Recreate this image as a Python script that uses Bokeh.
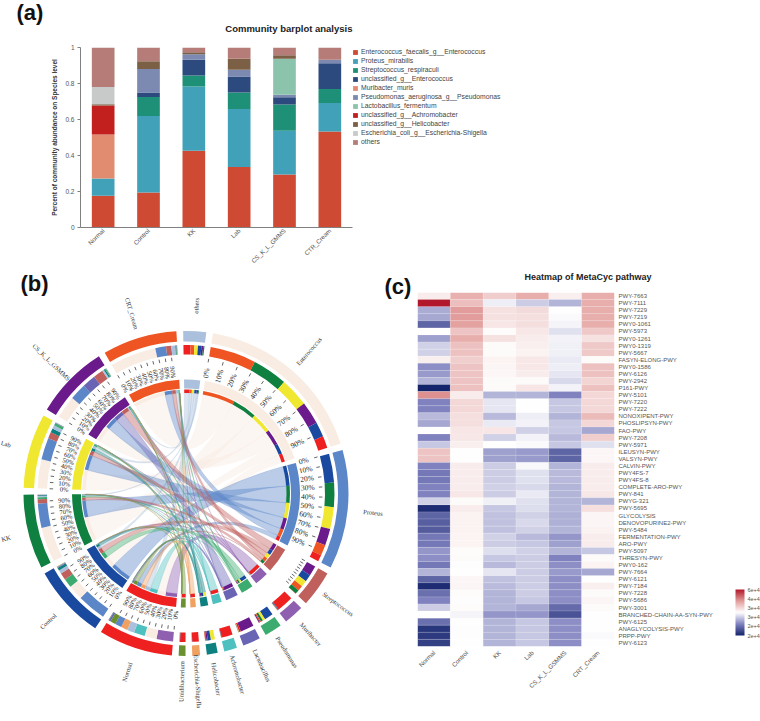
import math
import numpy as np
from bokeh.embed import file_html
from bokeh.resources import INLINE
from bokeh.plotting import figure
from bokeh.layouts import column, row
from bokeh.core.properties import value
from bokeh.models import (ColorBar, ColumnDataSource, FactorRange, FixedTicker, Label, Legend, LegendItem,
                          LinearColorMapper, Range1d)

# ---------------- (a) stacked bars ----------------
bar_groups = ["Normal", "Control", "KK", "Lab", "CS_K_L_GMMS", "CTR_Cream"]
species = ["Enterococcus_faecalis_g__Enterococcus", "Proteus_mirabilis", "Streptococcus_respiraculi",
           "unclassified_g__Enterococcus", "Muribacter_muris", "Pseudomonas_aeruginosa_g__Pseudomonas",
           "Lactobacillus_fermentum", "unclassified_g__Achromobacter", "unclassified_g__Helicobacter",
           "Escherichia_coli_g__Escherichia-Shigella", "others"]
species_colors = ["#cf4a32", "#40a1b8", "#1f9078", "#2d4a7f", "#e18b70", "#7c89b0", "#8cc3ad",
                  "#c1201f", "#7c6045", "#c8cac9", "#b57c78"]
sp_enterococcus = [.176, .194, .427, .336, .294, .534]
sp_proteus = [.096, .425, .357, .322, .244, .157]
sp_strep = [0, .106, .061, .092, .146, .078]
sp_uncl_entero = [0, .025, .087, .089, .039, .144]
sp_muribacter = [.244, 0, 0, 0, 0, 0]
sp_pseudomonas = [0, .130, .031, .037, .015, .019]
sp_lacto = [0, 0, 0, 0, .199, 0]
sp_achromo = [.162, 0, 0, 0, 0, 0]
sp_helico = [.007, .044, .011, .061, .020, 0]
sp_escherichia = [.095, 0, 0, 0, 0, 0]
sp_others = [.220, .076, .026, .063, .043, .068]
species_values = [sp_enterococcus, sp_proteus, sp_strep, sp_uncl_entero, sp_muribacter, sp_pseudomonas,
                  sp_lacto, sp_achromo, sp_helico, sp_escherichia, sp_others]
bar_ticks = [0, .2, .4, .6, .8, 1]

# ---------------- (b) chord ----------------
samples = ["Normal", "Control", "KK", "Lab", "CS_K_L_GSMMS", "CRT_Cream"]
sample_colors = ["#ee2020", "#1a4aa0", "#0f8040", "#f0e830", "#6a1a8a", "#ee5522"]
taxa = ["others", "Enterococcus", "Proteus", "Streptococcus", "Muribacter", "Pseudomonas",
        "Lactobacillus", "Achromobacter", "Helicobacter", "Escherichia-Shigella", "Unidibacterium"]
taxa_colors = ["#aac0dc", "#f9ece2", "#5b86c8", "#c0605c", "#9060b0", "#3cab70",
               "#6a64b4", "#4fc0c0", "#0f8080", "#f0a060", "#6a9030"]
flow_others = [10.5, 5.1, 1.8, 5.2, 2.6, 5.5]
flow_enterococcus = [17.6, 21.9, 51.4, 42.5, 33.3, 67.8]
flow_proteus = [9.6, 42.5, 35.7, 32.2, 24.4, 15.7]
flow_strep = [.3, 10.6, 6.1, 9.2, 14.6, 7.8]
flow_muribacter = [24.4, 1.0, .3, .4, .4, .3]
flow_pseudomonas = [.2, 13, 3.1, 3.7, 1.5, 1.9]
flow_lacto = [2.5, .3, .2, .5, 19.9, .3]
flow_achromo = [16.2, .4, .1, .2, .3, .1]
flow_helico = [.7, 4.4, 1.1, 6.1, 2, .2]
flow_escherichia = [9.7, .2, .1, .1, .2, .1]
flow_unid = [8, .3, .2, .2, .2, .2]
flows = [flow_others, flow_enterococcus, flow_proteus, flow_strep, flow_muribacter, flow_pseudomonas,
         flow_lacto, flow_achromo, flow_helico, flow_escherichia, flow_unid]
pct_labels = ["0%", "10%", "20%", "30%", "40%", "50%", "60%", "70%", "80%", "90%"]

# ---------------- (c) heatmap ----------------
pathways = ["PWY-7663", "PWY-7111", "PWY-7229", "PWY-7219", "PWY0-1061", "PWY-5973", "PWY0-1261", "PWY0-1319",
            "PWY-5667", "FASYN-ELONG-PWY", "PWY0-1586", "PWY-6126", "PWY-2942", "P161-PWY", "PWY-5101", "PWY-7220",
            "PWY-7222", "NONOXIPENT-PWY", "PHOSLIPSYN-PWY", "FAO-PWY", "PWY-7208", "PWY-5971", "ILEUSYN-PWY",
            "VALSYN-PWY", "CALVIN-PWY", "PWY4FS-7", "PWY4FS-8", "COMPLETE-ARO-PWY", "PWY-841", "PWYG-321", "PWY-5695",
            "GLYCOLYSIS", "DENOVOPURINE2-PWY", "PWY-5484", "FERMENTATION-PWY", "ARO-PWY", "PWY-5097", "THRESYN-PWY",
            "PWY0-162", "PWY-7664", "PWY-6121", "PWY-7184", "PWY-7228", "PWY-5686", "PWY-3001",
            "BRANCHED-CHAIN-AA-SYN-PWY", "PWY-6125", "ANAGLYCOLYSIS-PWY", "PRPP-PWY", "PWY-6123"]
z_normal = [.1, 1, -.33, -.35, -.65, 0, -.38, -.18, -.18, .08, -.45, -.4, -.3, -1, .55, -.5, -.5, -.28, -.35, 0, -.5, -.22, .3, .3, -.5, -.55, -.55, -.5, -.5, -.18, -.95, -.65, -.68, -.7, -.55, -.55, -.42, -.45, -.55, -.3, -.65, -.95, -.6, -.5, -.2, 0, -.6, -.9, -.88, -.85]
z_control = [.4, .33, .5, .5, .48, .3, .42, .32, .32, .25, .3, .3, .3, .32, .1, .2, .2, .17, .17, .13, .12, .08, 0, 0, .1, .1, .1, .1, .12, .03, .1, .07, .07, .07, .06, .06, .02, .03, .01, 0, .04, .05, .02, .01, .02, -.04, 0, .01, .01, 0]
z_kk = [.25, -.07, .15, .15, .13, .02, .15, .03, .03, .06, .05, .04, .03, .03, -.3, -.1, -.1, -.28, -.08, .13, -.18, 0, -.38, -.38, -.2, -.2, -.2, -.18, -.2, -.06, -.22, -.25, -.25, -.25, -.18, -.2, -.13, -.22, -.28, -.1, -.25, -.27, -.3, -.3, -.3, -.42, -.3, -.3, -.3, -.3]
z_lab = [.42, -.2, .18, .17, .17, .12, .1, .08, .07, .12, .12, .1, .03, .13, -.3, 0, 0, -.07, -.05, -.18, -.05, -.02, -.4, -.4, -.03, -.12, -.12, -.15, -.08, -.12, -.14, -.18, -.15, -.18, -.28, -.22, -.18, -.2, -.2, -.2, -.2, -.2, -.2, -.22, -.35, -.42, -.22, -.22, -.22, -.22]
z_cs = [.08, -.3, 0, -.02, -.04, -.12, -.05, -.06, -.06, -.08, -.07, -.1, -.15, -.05, -.5, -.22, -.22, -.3, -.22, -.22, -.28, -.22, -.65, -.65, -.3, -.28, -.28, -.3, -.3, -.3, -.3, -.32, -.32, -.3, -.42, -.38, -.3, -.5, -.45, -.4, -.45, -.45, -.45, -.45, -.62, -.75, -.45, -.45, -.45, -.45]
z_crt = [.42, .42, .42, .42, .42, .28, .15, .28, .28, .03, .32, .32, .22, .32, .2, .2, .2, .35, .2, -.35, .25, -.12, .04, .04, .1, .1, .1, .1, .12, -.3, .16, .05, .05, .07, .1, .1, -.22, .03, .06, -.35, 0, .08, .03, .05, .03, 0, 0, 0, -.02, 0]
heat_columns = [z_normal, z_control, z_kk, z_lab, z_cs, z_crt]
cbar_ticks = [-1, -.6, -.2, .2, .6, 1]
cbar_labels = ["2e+4", "2e+4", "3e+4", "3e+4", "4e+4", "6e+4"]

SANS = "Liberation Sans"
SERIF = "Liberation Serif"
A_H = 282        # height of first row
ROW2_TOP = 258   # picture y at which the second row starts (it overlaps the empty end of row 1)
B_H = 721 - ROW2_TOP


def panel_label(text, w, h, x, y):
    """A small empty figure that only holds a panel letter."""
    f = figure(width=w, height=h, x_range=Range1d(0, w), y_range=Range1d(0, h), output_backend="svg",
               toolbar_location=None, min_border=0, border_fill_color=None, background_fill_color=None,
               frame_align=False)
    f.axis.visible = False
    f.grid.visible = False
    f.outline_line_color = None
    f.add_layout(Label(x=x, y=y, text=text, text_font=SANS, text_font_style="bold", text_font_size="22px",
                       text_color="#111111"))
    return f


# ---------- (a) ----------
pa = figure(frame_width=272, frame_height=180, x_range=FactorRange(*bar_groups, range_padding=0, factor_padding=0),
            y_range=Range1d(0, 1), output_backend="svg", toolbar_location=None, frame_align=False,
            min_border_left=32, min_border_right=0, min_border_top=47, min_border_bottom=A_H - 227)
renderers = pa.vbar_stack(species, x="group", width=0.5, color=species_colors, line_color=None,
                          source={"group": bar_groups, **dict(zip(species, species_values))})
pa.grid.visible = False
pa.outline_line_color = None
pa.title.text = "Community barplot analysis"
pa.title.align = "right"
pa.title.text_font = SANS
pa.title.text_font_size = "9.5px"
pa.title.text_color = "#222222"
pa.title.standoff = 28
pa.xaxis.major_label_orientation = math.pi / 4
pa.xaxis.major_tick_line_color = None
pa.xaxis.major_tick_out = 0
pa.xaxis.major_tick_in = 0
pa.xaxis.major_label_text_font_size = "6.2px"
pa.xaxis.major_label_text_font = SANS
pa.xaxis.major_label_text_color = "#555555"
pa.xaxis.major_label_standoff = 2
pa.xaxis.axis_line_color = "#808080"
pa.yaxis.ticker = FixedTicker(ticks=bar_ticks)
pa.yaxis.major_label_overrides = {0: "0", 1: "1"}
pa.yaxis.major_label_text_font_size = "6.5px"
pa.yaxis.major_label_text_font = SANS
pa.yaxis.major_label_text_color = "#555555"
pa.yaxis.major_tick_in = 0
pa.yaxis.major_tick_out = 3
pa.yaxis.major_tick_line_color = "#808080"
pa.yaxis.minor_tick_line_color = None
pa.yaxis.axis_line_color = "#808080"
pa.yaxis.major_label_standoff = 3
pa.yaxis.axis_label = "Percent of community abundance on Species level"
pa.yaxis.axis_label_text_font = SANS
pa.yaxis.axis_label_text_font_style = "bold"
pa.yaxis.axis_label_text_font_size = "6.5px"
pa.yaxis.axis_label_text_color = "#333333"
pa.yaxis.axis_label_standoff = 4
legend = Legend(items=[LegendItem(label=value(s), renderers=[r]) for s, r in zip(species, renderers)],
                location="top_left", border_line_color=None, background_fill_alpha=0,
                glyph_width=6, glyph_height=6, label_height=9, spacing=0, padding=7, margin=0,
                label_text_font=SANS, label_text_font_size="6.8px", label_text_color="#444444",
                label_standoff=3)
pa.add_layout(legend, "right")
pal = panel_label("(a)", 48, A_H, 16, A_H - 24)

# ---------- (b) ----------
GAP = 2.4
all_flows = np.array(flows, dtype=float)        # taxa x samples
taxa_tot = all_flows.sum(axis=1)
samp_tot = all_flows.sum(axis=0)
KF = (360 - GAP * (len(taxa) + len(samples))) / (taxa_tot.sum() + samp_tot.sum())

sectors = []
th = -1.0
for i, t in enumerate(taxa):
    w = taxa_tot[i] * KF
    sectors.append(dict(name=t, color=taxa_colors[i], start=th, end=th + w, kind="t", idx=i))
    th += w + GAP
for i, s in enumerate(samples):
    w = samp_tot[i] * KF
    sectors.append(dict(name=s, color=sample_colors[i], start=th, end=th + w, kind="s", idx=i))
    th += w + GAP

R_OUT = (152, 162.5)
R_COMP = (139, 148.5)
R_TICK = (133, 136.5)
R_INNER = (105, 114)
R_THIN = (100.5, 104)
R_LINK = 100.5

pb = figure(width=384, height=B_H, x_range=Range1d(0 - 185.5, 384 - 185.5),
            y_range=Range1d(493 - 721, 493 - ROW2_TOP), output_backend="svg", toolbar_location=None,
            min_border=0, border_fill_color=None, background_fill_color=None, frame_align=False)
pb.axis.visible = False
pb.grid.visible = False
pb.outline_line_color = None


def rad(theta):
    return np.radians(90 - theta)


wedges = {"ir": [], "or": [], "s": [], "e": [], "c": []}


def add_wedge(r, a1, a2, c):
    wedges["ir"].append(r[0]); wedges["or"].append(r[1])
    wedges["s"].append(float(rad(a2))); wedges["e"].append(float(rad(a1))); wedges["c"].append(c)


seg_t = {}  # (taxon, sample) -> angular segment in taxon sector
seg_s = {}  # (taxon, sample) -> angular segment in sample sector
for sec in sectors:
    add_wedge(R_OUT, sec["start"], sec["end"], sec["color"])
    add_wedge(R_INNER, sec["start"], sec["end"], sec["color"])
    a = sec["start"]
    if sec["kind"] == "t":
        vals = all_flows[sec["idx"], :]
        for j in np.argsort(-vals):
            b = a + vals[j] * KF
            seg_t[(sec["idx"], j)] = (a, b)
            add_wedge(R_COMP, a, b, sample_colors[j])
            add_wedge(R_THIN, a, b, sample_colors[j])
            a = b
    else:
        vals = all_flows[:, sec["idx"]]
        for j in np.argsort(-vals):
            b = a + vals[j] * KF
            seg_s[(j, sec["idx"])] = (a, b)
            add_wedge(R_COMP, a, b, taxa_colors[j])
            add_wedge(R_THIN, a, b, taxa_colors[j])
            a = b


def ribbon(a1, a2, b1, b2, r):
    t = np.linspace(0, 1, 24)
    xs, ys = [], []

    def arc(u, v):
        ang = np.radians(90 - np.linspace(u, v, 12))
        xs.extend(r * np.cos(ang)); ys.extend(r * np.sin(ang))

    def bez(u, v):
        p0 = np.array([r * np.cos(rad(u)), r * np.sin(rad(u))])
        p2 = np.array([r * np.cos(rad(v)), r * np.sin(rad(v))])
        xs.extend((1 - t) ** 2 * p0[0] + t ** 2 * p2[0])
        ys.extend((1 - t) ** 2 * p0[1] + t ** 2 * p2[1])

    arc(a1, a2); bez(a2, b1); arc(b1, b2); bez(b2, a1)
    return xs, ys


order = [1, 0, 2, 6, 4, 8, 7, 5, 3, 10, 9]
rx, ry, rc, ra = [], [], [], []
for i in order:
    for j in np.argsort(-all_flows[i, :])[::-1]:
        a1, a2 = seg_s[(i, j)]
        b1, b2 = seg_t[(i, j)]
        xs, ys = ribbon(a1, a2, b1, b2, R_LINK)
        rx.append(xs); ry.append(ys); rc.append(taxa_colors[i])
        ra.append(.45 if i == 1 else .42)
pb.patches(rx, ry, fill_color=rc, fill_alpha=ra, line_color=rc, line_alpha=.5, line_width=.4)
pb.annular_wedge(x=[0] * len(wedges["c"]), y=[0] * len(wedges["c"]), inner_radius=wedges["ir"],
                 outer_radius=wedges["or"], start_angle=wedges["s"], end_angle=wedges["e"],
                 fill_color=wedges["c"], line_color=None)

# ticks and percentage labels
tx0, ty0, tx1, ty1 = [], [], [], []
lx, ly, lt, la, lf = [], [], [], [], []
for sec in sectors:
    has_ticks = sec["kind"] == "s" or sec["name"] in ("Enterococcus", "Proteus", "Streptococcus")
    if not has_ticks:
        continue
    has_lab = sec["name"] != "Streptococcus"
    big = sec["name"] in ("Enterococcus", "Proteus")
    for n, lab in enumerate(pct_labels):
        ang = sec["start"] + (sec["end"] - sec["start"]) * n / 10
        c, s = math.cos(rad(ang)), math.sin(rad(ang))
        tx0.append(R_TICK[0] * c); ty0.append(R_TICK[0] * s)
        tx1.append(R_TICK[1] * c); ty1.append(R_TICK[1] * s)
        if has_lab:
            rr = 122
            lx.append(rr * c); ly.append(rr * s); lt.append(lab)
            la.append(float(rad(ang)) if ang % 360 < 180 else float(rad(ang)) + math.pi)
            lf.append("7.5px" if big else "6.5px")
pb.segment(tx0, ty0, tx1, ty1, line_color="#222222", line_width=.7)
pb.text(lx, ly, lt, angle=la, text_font=value(SERIF), text_font_size=lf, text_align="center",
        text_baseline="middle", text_color="#222222")

# sector names, tangential
nx, ny, nt, na = [], [], [], []
for sec in sectors:
    mid = (sec["start"] + sec["end"]) / 2
    c, s = math.cos(rad(mid)), math.sin(rad(mid))
    x, y = 188 * c, 188 * s
    x = max(x, -180.0)
    nx.append(x); ny.append(y); nt.append(sec["name"])
    ang = 90 - mid if mid % 360 < 180 else 270 - mid
    na.append(math.radians(ang))
pb.text(nx, ny, nt, angle=na, text_font=value(SERIF), text_font_size="6.5px", text_align="center",
        text_baseline="middle", text_color="#333333")
pb.add_layout(Label(x=20 - 185.5, y=493 - 295, text="(b)", text_font=SANS, text_font_style="bold",
                    text_font_size="22px", text_color="#111111"))

# ---------- (c) ----------
stops = [(-1, (20, 36, 107)), (-.5, (127, 130, 191)), (0, (255, 255, 255)), (.5, (226, 158, 156)), (1, (178, 24, 43))]
palette = []
for v in np.linspace(-1, 1, 256):
    for (v0, c0), (v1, c1) in zip(stops[:-1], stops[1:]):
        if v <= v1:
            f = (v - v0) / (v1 - v0)
            palette.append("#%02x%02x%02x" % tuple(int(round(c0[k] + (c1[k] - c0[k]) * f)) for k in range(3)))
            break
mapper = LinearColorMapper(palette=palette, low=-1, high=1)
heat_labels = ["Normal", "Control", "KK", "Lab", "CS_K_L_GSMMS", "CRT_Cream"]
pc = figure(width=348, height=B_H,
            x_range=FactorRange(*heat_labels, range_padding=0, factor_padding=0),
            y_range=FactorRange(*pathways[::-1], range_padding=0, factor_padding=0),
            y_axis_location="right", output_backend="svg", toolbar_location=None, frame_align=False,
            min_border_left=5, min_border_right=146, min_border_top=289 - ROW2_TOP, min_border_bottom=75,
            border_fill_color=None, background_fill_color=None)
cells_x, cells_y, cells_z = [], [], []
for name, col in zip(heat_labels, heat_columns):
    for pw, z in zip(pathways, col):
        cells_x.append(name); cells_y.append(pw); cells_z.append(z)
src = ColumnDataSource({"x": cells_x, "y": cells_y, "z": cells_z})
pc.rect("x", "y", width=1, height=1, source=src, fill_color={"field": "z", "transform": mapper},
        line_color="#ffffff", line_alpha=.35, line_width=.4)
pc.grid.visible = False
pc.outline_line_color = None
pc.axis.axis_line_color = None
pc.axis.major_tick_line_color = None
pc.axis.minor_tick_line_color = None
pc.axis.major_tick_out = 0
pc.axis.major_tick_in = 0
pc.axis.major_label_text_font = SANS
pc.axis.major_label_text_color = "#555555"
pc.xaxis.major_label_orientation = math.pi / 4
pc.xaxis.major_label_text_font_size = "6.2px"
pc.yaxis.major_label_text_font_size = "6px"
pc.yaxis.major_label_standoff = 4
pc.title.text = "Heatmap of MetaCyc pathway"
pc.title.align = "left"
pc.title.offset = 107
pc.title.text_font = SANS
pc.title.text_font_size = "9px"
pc.title.text_color = "#222222"
pc.title.standoff = 22
cb = ColorBar(color_mapper=mapper, width=9, height=46, location=(318, 11), padding=0, margin=0,
              ticker=FixedTicker(ticks=cbar_ticks),
              major_label_overrides=dict(zip(cbar_ticks, cbar_labels)),
              major_label_text_font=SANS, major_label_text_font_size="5.5px",
              major_label_text_color="#555555", major_tick_line_color="#666666",
              major_tick_in=0, major_tick_out=0, label_standoff=3, bar_line_color=None,
              background_fill_alpha=0, border_line_color=None)
pc.add_layout(cb, "center")
pcl = panel_label("(c)", 28, B_H, 0, B_H - 40)

root = column(row(pal, pa, spacing=0), row(pb, pcl, pc, spacing=0, margin=(ROW2_TOP - A_H, 0, 0, 0)), spacing=0)
open("out.html", "w").write(file_html(root, INLINE))
